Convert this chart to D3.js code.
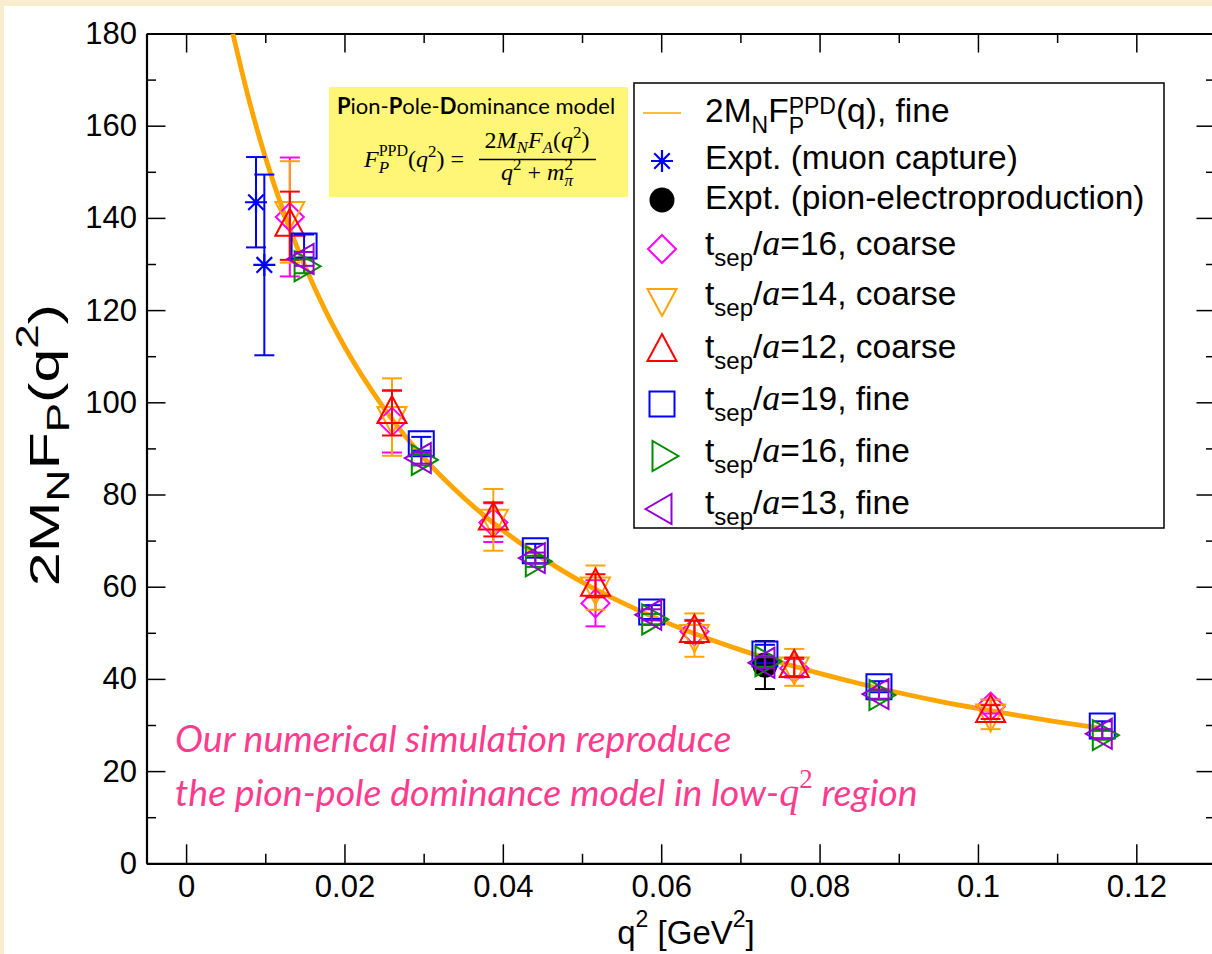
<!DOCTYPE html>
<html>
<head>
<meta charset="utf-8">
<script src="https://cdn.jsdelivr.net/npm/d3@7"></script>
<style>
  html, body { margin: 0; padding: 0; background: #f8eecf; }
  svg { display: block; }
  text { white-space: pre; }
</style>
</head>
<body>
<svg id="chart" width="1212" height="954"></svg>
<script>
// ---- data ----
// pion-pole dominance curve, 2 M_N F_P^PPD(q^2)
const curveQ = [0.0059, 0.0080, 0.0100, 0.0125, 0.0150, 0.0175, 0.0200, 0.0250, 0.0300, 0.0350,
                0.0400, 0.0450, 0.0500, 0.0550, 0.0600, 0.0650, 0.0700, 0.0750, 0.0800, 0.0850,
                0.0900, 0.0950, 0.1000, 0.1050, 0.1100, 0.1155];
const curveV = [180.0, 165.2, 153.2, 140.4, 129.6, 120.2, 112.1, 98.7, 88.0, 79.4,
                72.2, 66.2, 61.0, 56.6, 52.7, 49.3, 46.3, 43.6, 41.2, 39.0,
                37.0, 35.2, 33.6, 32.1, 30.7, 29.3];

// experiments
const muonQ = [0.00883, 0.00988];
const muonV = [143.4, 129.8];
const muonE = [9.8, 19.6];
const pionQ = [0.0731];
const pionV = [43.0];
const pionE = [5.2];

// coarse lattice
const coarseQ = [0.0131, 0.0260, 0.0388, 0.0517, 0.0642, 0.0768, 0.1016];
const coarse16V = [140.2, 95.8, 73.9, 56.4, 50.3, 42.3, 34.0];
const coarse16E = [12.9, 6.7, 4.2, 5.0, 2.5, 2.0, 1.5];
const coarse14V = [141.3, 96.8, 74.5, 59.8, 49.5, 42.5, 32.3];
const coarse14E = [11.0, 8.4, 6.7, 4.8, 4.7, 4.0, 3.2];
const coarse12V = [138.3, 97.7, 74.6, 60.2, 50.2, 42.6, 32.8];
const coarse12E = [7.4, 4.9, 3.7, 2.5, 2.4, 2.0, 1.5];

// fine lattice
const fineQ = [0.0149, 0.0297, 0.0441, 0.0588, 0.0731, 0.0875, 0.1157];
const fine19V = [133.9, 91.0, 67.8, 54.5, 45.4, 38.3, 29.8];
const fine19E = [2.5, 1.5, 1.5, 1.5, 2.0, 1.2, 1.0];
const fine16V = [129.5, 87.5, 65.5, 52.9, 43.8, 36.5, 27.8];
const fine16E = [1.5, 1.2, 1.2, 1.2, 1.2, 1.0, 1.0];
const fine13V = [131.1, 87.9, 66.2, 53.9, 43.5, 36.7, 28.1];
const fine13E = [1.5, 1.2, 1.2, 1.2, 1.2, 1.0, 1.0];

// axis ticks
const xMajor = [0, 0.02, 0.04, 0.06, 0.08, 0.1, 0.12];
const xMajorLabels = ["0", "0.02", "0.04", "0.06", "0.08", "0.1", "0.12"];
const xMinor = [0.01, 0.03, 0.05, 0.07, 0.09, 0.11];
const yMajor = [0, 20, 40, 60, 80, 100, 120, 140, 160, 180];
const yMinor = [10, 30, 50, 70, 90, 110, 130, 150, 170];

// ---- drawing ----
const svg = d3.select("#chart");
const W = 1212, H = 954;

svg.append("rect").attr("width", W).attr("height", H).attr("fill", "#f8eecf");
svg.append("rect").attr("x", 4).attr("y", 6).attr("width", W - 4).attr("height", H - 6).attr("fill", "#ffffff");

const x = d3.scaleLinear().domain([-0.005, 0.13]).range([146.5, 1215.5]);
const y = d3.scaleLinear().domain([0, 180]).range([863.3, 33.5]);

const SANS = "'Liberation Sans', Arial, Helvetica, sans-serif";
const SERIF = "'Liberation Serif', 'Times New Roman', serif";
const HUMAN = "Lato, 'Open Sans', sans-serif";

// rich text helper: sequential pieces with size / baseline shift / stacking
function richText(parent, x0, y0, parts, anchor) {
  const g = parent.append("g");
  let cx = 0, lastStart = 0;
  const items = [];
  parts.forEach(p => {
    const t = g.append("text")
      .attr("y", y0 + (p.shift || 0))
      .attr("font-family", p.family || SANS)
      .attr("font-size", p.size)
      .attr("font-style", p.style || "normal")
      .attr("font-weight", p.weight || "normal")
      .attr("fill", p.fill || "#000")
      .attr("xml:space", "preserve")
      .text(p.t);
    const w = t.node().getComputedTextLength();
    let px;
    if (p.stack) { px = lastStart; cx = Math.max(cx, lastStart + w); }
    else { px = cx + (p.dx || 0); cx = px + w; }
    lastStart = px;
    items.push({ t, px });
  });
  const total = cx;
  const off = anchor === "middle" ? -total / 2 : anchor === "end" ? -total : 0;
  items.forEach(it => it.t.attr("x", x0 + it.px + off));
  return g;
}

// ---- axes ----
const axG = svg.append("g").attr("class", "axes");
function styleAxis(g) {
  g.select(".domain").attr("stroke", "#000").attr("stroke-width", 2.2);
  g.selectAll(".tick line").attr("stroke", "#000").attr("stroke-width", 1.5);
}
function minorStyle(g) {
  g.select(".domain").remove();
  g.selectAll("line").attr("stroke", "#000").attr("stroke-width", 1.5);
}
// bottom
const bx = axG.append("g").attr("transform", `translate(0,${y(0)})`)
  .call(d3.axisBottom(x).tickValues(xMajor).tickFormat((d, i) => xMajorLabels[i])
    .tickSizeInner(-19).tickSizeOuter(0).tickPadding(12));
styleAxis(bx);
bx.selectAll("text").attr("font-family", SANS).attr("font-size", 31).attr("fill", "#000");
axG.append("g").attr("transform", `translate(0,${y(0)})`)
  .call(d3.axisBottom(x).tickValues(xMinor).tickFormat("").tickSizeInner(-9.5).tickSizeOuter(0))
  .call(minorStyle);
// top
const tx = axG.append("g").attr("transform", `translate(0,${y(180)})`)
  .call(d3.axisTop(x).tickValues(xMajor).tickFormat("").tickSizeInner(-19).tickSizeOuter(0));
styleAxis(tx);
axG.append("g").attr("transform", `translate(0,${y(180)})`)
  .call(d3.axisTop(x).tickValues(xMinor).tickFormat("").tickSizeInner(-9.5).tickSizeOuter(0))
  .call(minorStyle);
// left
const ly = axG.append("g").attr("transform", `translate(${x(-0.005)},0)`)
  .call(d3.axisLeft(y).tickValues(yMajor).tickSizeInner(-19).tickSizeOuter(0).tickPadding(9.5));
styleAxis(ly);
ly.selectAll("text").attr("font-family", SANS).attr("font-size", 31).attr("fill", "#000");
axG.append("g").attr("transform", `translate(${x(-0.005)},0)`)
  .call(d3.axisLeft(y).tickValues(yMinor).tickFormat("").tickSizeInner(-9.5).tickSizeOuter(0))
  .call(minorStyle);
// right
const ry = axG.append("g").attr("transform", `translate(${x(0.13)},0)`)
  .call(d3.axisRight(y).tickValues(yMajor).tickFormat("").tickSizeInner(-19).tickSizeOuter(0));
styleAxis(ry);
axG.append("g").attr("transform", `translate(${x(0.13)},0)`)
  .call(d3.axisRight(y).tickValues(yMinor).tickFormat("").tickSizeInner(-9.5).tickSizeOuter(0))
  .call(minorStyle);

// axis titles
richText(svg, 686, 944, [
  { t: "q", size: 33 },
  { t: "2", size: 23, shift: -17 },
  { t: " [GeV", size: 33 },
  { t: "2", size: 23, shift: -17 },
  { t: "]", size: 33 }
], "middle");

const yl = svg.append("g").attr("transform", "translate(59,445) rotate(-90) scale(1.42,1)");
richText(yl, 0, 0, [
  { t: "2M", size: 43 },
  { t: "N", size: 31, shift: 10 },
  { t: "F", size: 43 },
  { t: "P", size: 31, shift: 10 },
  { t: "(q", size: 43 },
  { t: "2", size: 31, shift: -21 },
  { t: ")", size: 43 }
], "middle");

// ---- plot contents ----
const plot = svg.append("g");
svg.append("clipPath").attr("id", "plotClip").append("rect")
  .attr("x", x(-0.005)).attr("y", y(180)).attr("width", x(0.13) - x(-0.005)).attr("height", y(0) - y(180));

// model curve
const curvePts = curveQ.map((q, i) => [q, curveV[i]]);
plot.append("path")
  .attr("clip-path", "url(#plotClip)")
  .attr("d", d3.line().x(d => x(d[0])).y(d => y(d[1])).curve(d3.curveMonotoneX)(curvePts))
  .attr("fill", "none").attr("stroke", "#ffa500").attr("stroke-width", 4.8);

// marker shapes
const shapes = {
  diamond: "M0,-14L14,0L0,14L-14,0Z",
  square: "M-12.5,-12.5H12.5V12.5H-12.5Z",
  triUp: "M0,-17L14.5,10L-14.5,10Z",
  triDown: "M0,17L14.5,-10L-14.5,-10Z",
  triRight: "M16.5,0L-9.5,-15L-9.5,15Z",
  triLeft: "M-16.5,0L9.5,-15L9.5,15Z",
  star: (() => { const r = 11, d = r * Math.SQRT1_2;
    return `M0,${-r}V${r}M${-r},0H${r}M${-d},${-d}L${d},${d}M${-d},${d}L${d},${-d}`; })()
};

function drawMarker(g, kind, cx, cy, color) {
  if (kind === "circle") {
    g.append("circle").attr("cx", cx).attr("cy", cy).attr("r", 12.5).attr("fill", color);
  } else {
    g.append("path").attr("d", shapes[kind]).attr("transform", `translate(${cx},${cy})`)
      .attr("fill", "none").attr("stroke", color).attr("stroke-width", kind === "star" ? 2.2 : 2);
  }
}

function drawSeries(qs, vs, es, kind, color) {
  const g = plot.append("g");
  qs.forEach((q, i) => {
    const cx = x(q), top = y(vs[i] + es[i]), bot = y(vs[i] - es[i]);
    g.append("line").attr("x1", cx).attr("x2", cx).attr("y1", top).attr("y2", bot)
      .attr("stroke", color).attr("stroke-width", 2);
    [top, bot].forEach(yy => g.append("line").attr("x1", cx - 10).attr("x2", cx + 10)
      .attr("y1", yy).attr("y2", yy).attr("stroke", color).attr("stroke-width", 2));
    drawMarker(g, kind, cx, y(vs[i]), color);
  });
}

drawSeries(muonQ, muonV, muonE, "star", "#0000ff");
drawSeries(pionQ, pionV, pionE, "circle", "#000000");
drawSeries(coarseQ, coarse16V, coarse16E, "diamond", "#ff00ff");
drawSeries(coarseQ, coarse14V, coarse14E, "triDown", "#ffa500");
drawSeries(coarseQ, coarse12V, coarse12E, "triUp", "#ff0000");
drawSeries(fineQ, fine19V, fine19E, "square", "#0000ff");
drawSeries(fineQ, fine16V, fine16E, "triRight", "#008b00");
drawSeries(fineQ, fine13V, fine13E, "triLeft", "#9400d3");

// ---- model annotation box ----
svg.append("rect").attr("x", 329).attr("y", 87).attr("width", 299).attr("height", 110).attr("fill", "#fff678");
richText(svg, 476, 114, [
  { t: "P", size: 22, family: HUMAN, weight: "bold" },
  { t: "ion-", size: 22, family: HUMAN },
  { t: "P", size: 22, family: HUMAN, weight: "bold" },
  { t: "ole-", size: 22, family: HUMAN },
  { t: "D", size: 22, family: HUMAN, weight: "bold" },
  { t: "ominance model", size: 22, family: HUMAN }
], "middle");
richText(svg, 364, 167, [
  { t: "F", size: 24, family: SERIF, style: "italic" },
  { t: "P", size: 17, family: SERIF, style: "italic", shift: 6 },
  { t: "PPD", size: 16, family: SERIF, shift: -11, stack: true },
  { t: "(", size: 24, family: SERIF },
  { t: "q", size: 24, family: SERIF, style: "italic" },
  { t: "2", size: 17, family: SERIF, shift: -10 },
  { t: ") = ", size: 24, family: SERIF }
]);
richText(svg, 537, 148, [
  { t: "2", size: 24, family: SERIF },
  { t: "M", size: 24, family: SERIF, style: "italic" },
  { t: "N", size: 17, family: SERIF, style: "italic", shift: 5 },
  { t: "F", size: 24, family: SERIF, style: "italic" },
  { t: "A", size: 17, family: SERIF, style: "italic", shift: 5 },
  { t: "(", size: 24, family: SERIF },
  { t: "q", size: 24, family: SERIF, style: "italic" },
  { t: "2", size: 17, family: SERIF, shift: -10 },
  { t: ")", size: 24, family: SERIF }
], "middle");
svg.append("line").attr("x1", 479).attr("x2", 596).attr("y1", 159.5).attr("y2", 159.5)
  .attr("stroke", "#000").attr("stroke-width", 1.4);
richText(svg, 537, 180, [
  { t: "q", size: 24, family: SERIF, style: "italic" },
  { t: "2", size: 17, family: SERIF, shift: -10 },
  { t: " + ", size: 24, family: SERIF },
  { t: "m", size: 24, family: SERIF, style: "italic" },
  { t: "2", size: 17, family: SERIF, shift: -10 },
  { t: "π", size: 17, family: SERIF, style: "italic", shift: 6, stack: true }
], "middle");

// ---- legend ----
const lg = svg.append("g");
lg.append("rect").attr("x", 634).attr("y", 83).attr("width", 530).attr("height", 445)
  .attr("fill", "#fff").attr("stroke", "#000").attr("stroke-width", 1.5);

const LX = 662, TX = 705, FS = 33.5;
const legendRows = [
  { kind: "line", color: "#ffa500", base: 122,
    parts: [{ t: "2M", size: FS }, { t: "N", size: 23, shift: 11 }, { t: "F", size: FS },
            { t: "P", size: 23, shift: 12 }, { t: "PPD", size: 23, shift: -8, stack: true },
            { t: "(q), fine", size: FS }] },
  { kind: "star", color: "#0000ff", base: 169, parts: [{ t: "Expt. (muon capture)", size: FS }] },
  { kind: "circle", color: "#000000", base: 209, parts: [{ t: "Expt. (pion-electroproduction)", size: FS }] },
  { kind: "diamond", color: "#ff00ff", base: 255, label: "=16, coarse" },
  { kind: "triDown", color: "#ffa500", base: 305, label: "=14, coarse" },
  { kind: "triUp", color: "#ff0000", base: 358, label: "=12, coarse" },
  { kind: "square", color: "#0000ff", base: 410, label: "=19, fine" },
  { kind: "triRight", color: "#008b00", base: 462, label: "=16, fine" },
  { kind: "triLeft", color: "#9400d3", base: 514, label: "=13, fine" }
];
const symY = [113, 161, 200, 249, 299, 351, 404, 456, 509];
legendRows.forEach((r, i) => {
  if (r.kind === "line") {
    lg.append("line").attr("x1", 643).attr("x2", 681).attr("y1", symY[i]).attr("y2", symY[i])
      .attr("stroke", r.color).attr("stroke-width", 1.5);
  } else {
    drawMarker(lg, r.kind, LX, symY[i], r.color);
  }
  const parts = r.parts || [
    { t: "t", size: FS }, { t: "sep", size: 24, shift: 11 }, { t: "/", size: FS },
    { t: "a", size: 36, family: SERIF, style: "italic" }, { t: r.label, size: FS }
  ];
  richText(lg, TX, r.base, parts);
});

// ---- remark ----
const PINK = "#ff3b8e";
richText(svg, 175, 752, [
  { t: "Our numerical simulation reproduce", size: 37.5, family: HUMAN, style: "italic", fill: PINK }
]);
richText(svg, 175, 806, [
  { t: "the pion-pole dominance model in low-", size: 37.5, family: HUMAN, style: "italic", fill: PINK },
  { t: "q", size: 40, family: SERIF, style: "italic", fill: PINK },
  { t: "2", size: 27, family: SERIF, shift: -18, fill: PINK },
  { t: " region", size: 37.5, family: HUMAN, style: "italic", fill: PINK }
]);
</script>
</body>
</html>
